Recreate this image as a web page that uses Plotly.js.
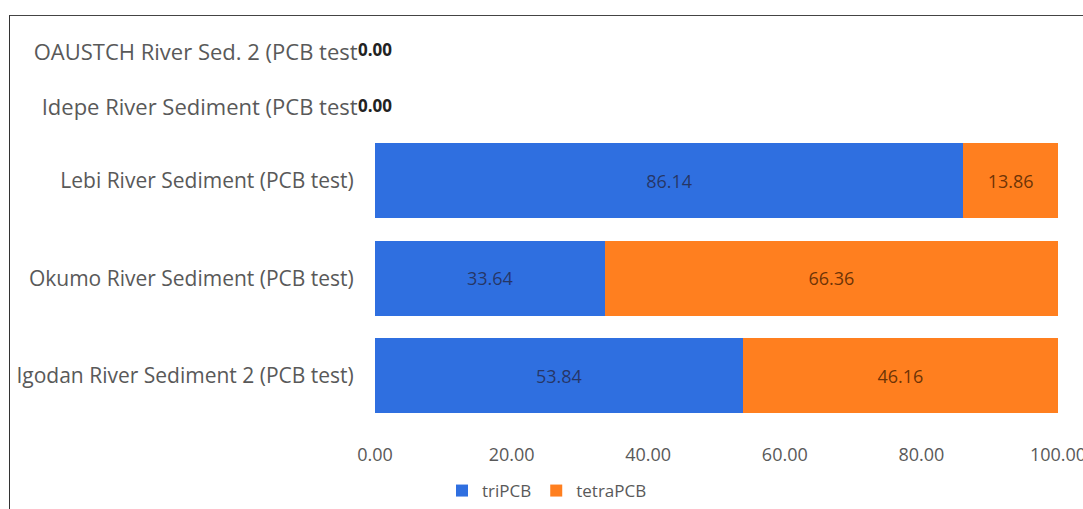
<!DOCTYPE html>
<html>
<head>
<meta charset="utf-8">
<script src="https://cdn.plot.ly/plotly-3.0.1.min.js"></script>
<style>
  html, body { margin: 0; padding: 0; background: #fff; }
  #wrap { position: relative; width: 1083px; height: 509px; overflow: hidden; }
  #frame { position: absolute; left: 9px; top: 15px; width: 1100px; height: 520px;
           border-left: 1.5px solid #333; border-top: 1.5px solid #444; }
  #chart { position: absolute; left: 0; top: 0; width: 1083px; height: 509px; }
</style>
</head>
<body>
<div id="wrap">
  <div id="frame"></div>
  <div id="chart"></div>
</div>
<script>
// Data (bottom to top)
const categories = [
  "Igodan River Sediment 2 (PCB test)",
  "Okumo River Sediment (PCB test)",
  "Lebi River Sediment (PCB test)",
  "Idepe River Sediment (PCB test",
  "OAUSTCH River Sed. 2 (PCB test"
];
const triPCB   = [53.84, 33.64, 86.14, 0, 0];
const tetraPCB = [46.16, 66.36, 13.86, 0, 0];
const xTickVals = [0, 20, 40, 60, 80, 100];

const fontFam = "'Open Sans', 'Noto Sans', sans-serif";
const blue = '#2f6fe0';
const orange = '#ff7f1f';
const fmt = v => v.toFixed(2);

// split: rows with data (bottom subplot) and zero rows (top subplot)
const lowIdx = [0, 1, 2];
const topIdx = [3, 4];
const pick = (arr, idx) => idx.map(i => arr[i]);

const traces = [
  {
    type: 'bar', orientation: 'h', name: 'triPCB',
    y: pick(categories, lowIdx), x: pick(triPCB, lowIdx),
    text: pick(triPCB, lowIdx).map(fmt), textposition: 'inside', insidetextanchor: 'middle',
    textfont: { family: fontFam, size: 18, color: 'rgba(35,35,60,0.75)' },
    marker: { color: blue }, xaxis: 'x', yaxis: 'y', hoverinfo: 'x+y'
  },
  {
    type: 'bar', orientation: 'h', name: 'tetraPCB',
    y: pick(categories, lowIdx), x: pick(tetraPCB, lowIdx),
    text: pick(tetraPCB, lowIdx).map(fmt), textposition: 'inside', insidetextanchor: 'middle',
    textfont: { family: fontFam, size: 18, color: 'rgba(70,30,0,0.8)' },
    marker: { color: orange }, xaxis: 'x', yaxis: 'y', hoverinfo: 'x+y'
  },
  {
    type: 'scatter', mode: 'text', showlegend: false,
    y: pick(categories, topIdx), x: pick(triPCB, topIdx),
    text: pick(triPCB, topIdx).map(fmt), textposition: 'middle center',
    textfont: { family: fontFam, size: 17, color: '#222', weight: 'bold' },
    xaxis: 'x', yaxis: 'y2', hoverinfo: 'skip', cliponaxis: false
  }
];

const layout = {
  width: 1083, height: 509,
  margin: { l: 0, r: 0, t: 0, b: 0 },
  paper_bgcolor: 'rgba(0,0,0,0)', plot_bgcolor: 'rgba(0,0,0,0)',
  barmode: 'stack', bargap: 0.23,
  showlegend: true,
  legend: {
    orientation: 'h', x: 547 / 1083, xanchor: 'center', y: 1 - 492 / 509, yanchor: 'middle',
    font: { family: fontFam, size: 17, color: '#595959' },
    traceorder: 'normal', itemwidth: 30
  },
  xaxis: {
    domain: [375 / 1083, 1058 / 1083], range: [0, 100], anchor: 'y',
    tickvals: xTickVals, ticktext: xTickVals.map(fmt),
    ticklabeloverflow: 'allow',
    showgrid: false, zeroline: false, showline: false,
    ticks: 'outside', ticklen: 14, tickcolor: 'rgba(0,0,0,0)',
    tickfont: { family: fontFam, size: 18, color: '#595959' }
  },
  yaxis: {
    domain: [1 - 425 / 509, 1 - 132.5 / 509], type: 'category', anchor: 'x',
    range: [-0.5, 2.5],
    showgrid: false, zeroline: false, showline: false,
    ticks: 'outside', ticklen: 16, tickcolor: 'rgba(0,0,0,0)',
    tickfont: { family: fontFam, size: 21, color: '#595959' }
  },
  yaxis2: {
    domain: [1 - 136 / 509, 1 - 24 / 509], type: 'category', anchor: 'x',
    categoryorder: 'array', categoryarray: pick(categories, topIdx),
    range: [-0.5, 1.5],
    showgrid: false, zeroline: false, showline: false,
    ticks: 'outside', ticklen: 12, tickcolor: 'rgba(0,0,0,0)',
    tickfont: { family: fontFam, size: 22, color: '#595959' }
  }
};

Plotly.newPlot('chart', traces, layout, { displayModeBar: false, staticPlot: true });
</script>
</body>
</html>
